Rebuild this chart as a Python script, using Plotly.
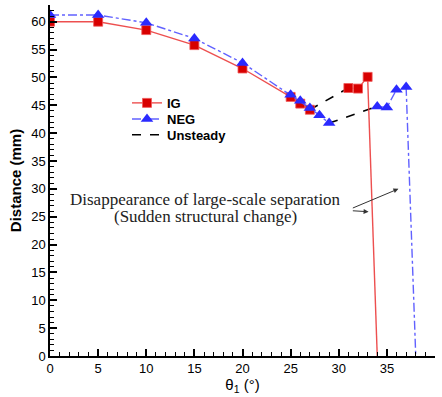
import plotly.graph_objects as go

# IG (red squares)
ig_x = [0, 5, 10, 15, 20, 25, 26, 27]
ig_y = [60.0, 60.0, 58.5, 55.8, 51.6, 46.5, 45.3, 44.2]
ig2_x = [31, 32, 33]
ig2_y = [48.1, 48.0, 50.1]
ig_drop_x = [33, 34]
ig_drop_y = [50.1, 0]

# NEG (blue triangles)
neg_x = [0, 5, 10, 15, 20, 25, 26, 27, 28, 29]
neg_y = [61.2, 61.2, 59.8, 57.0, 52.6, 46.9, 45.8, 44.5, 43.2, 41.8]
neg2_x = [34, 35, 36, 37]
neg2_y = [44.8, 44.6, 47.8, 48.3]
neg_drop_x = [37, 38]
neg_drop_y = [48.3, 0]

# Unsteady connections
uns_x = [27, 31, None, 29, 34]
uns_y = [44.2, 48.1, None, 41.8, 44.8]

x_ticks = [0, 5, 10, 15, 20, 25, 30, 35, 40]
y_ticks = [0, 5, 10, 15, 20, 25, 30, 35, 40, 45, 50, 55, 60]

RED_LINE = "rgba(235,60,60,0.9)"
RED_MK = "#d80000"
BLUE_LINE = "rgba(80,80,255,0.9)"
BLUE_MK = "#2a2aff"

fig = go.Figure()

fig.add_trace(go.Scatter(x=uns_x, y=uns_y, mode="lines", name="Unsteady",
                         line=dict(color="black", width=1.6, dash="dash"),
                         legend="legend3"))
fig.add_trace(go.Scatter(x=ig_drop_x, y=ig_drop_y, mode="lines", showlegend=False,
                         line=dict(color=RED_LINE, width=1.4)))
fig.add_trace(go.Scatter(x=neg_drop_x, y=neg_drop_y, mode="lines", showlegend=False,
                         line=dict(color=BLUE_LINE, width=1.4, dash="dashdot")))
fig.add_trace(go.Scatter(x=ig_x + [None] + ig2_x, y=ig_y + [None] + ig2_y,
                         mode="lines+markers", name="IG", legend="legend",
                         line=dict(color=RED_LINE, width=1.4),
                         marker=dict(symbol="square", size=9, color=RED_MK,
                                     line=dict(color="rgba(240,90,90,0.8)", width=1))))
fig.add_trace(go.Scatter(x=neg_x + [None] + neg2_x, y=neg_y + [None] + neg2_y,
                         mode="lines+markers", name="NEG", legend="legend2",
                         line=dict(color=BLUE_LINE, width=1.4, dash="dashdot"),
                         marker=dict(symbol="triangle-up", size=11, color=BLUE_MK,
                                     line=dict(width=0))))

serif = "Liberation Serif, Times New Roman, serif"
fig.add_annotation(x=16.2, y=28.1, xref="x", yref="y", showarrow=False,
                   text="Disappearance of large-scale separation",
                   font=dict(family=serif, size=17, color="#222"))
fig.add_annotation(x=16.2, y=25.0, xref="x", yref="y", showarrow=False,
                   text="(Sudden structural change)",
                   font=dict(family=serif, size=17, color="#222"))
fig.add_annotation(x=36.2, y=30.0, ax=31.1, ay=26.3, xref="x", yref="y",
                   axref="x", ayref="y", showarrow=True, text=" ",
                   arrowhead=2, arrowsize=1, arrowwidth=1, arrowcolor="#333")
fig.add_annotation(x=33.1, y=25.9, ax=31.1, ay=26.1, xref="x", yref="y",
                   axref="x", ayref="y", showarrow=True, text=" ",
                   arrowhead=2, arrowsize=1, arrowwidth=1, arrowcolor="#333")

axis_font = dict(family="Liberation Sans, Arial, sans-serif", size=13, color="black")
leg_font = dict(family="Liberation Sans, Arial, sans-serif", size=13,
                color="black", weight="bold")
leg_common = dict(x=0.2, xanchor="left", yanchor="middle",
                  bgcolor="rgba(0,0,0,0)", font=leg_font)

fig.update_layout(
    width=442, height=397,
    margin=dict(l=50, r=7, t=5, b=41),
    paper_bgcolor="white", plot_bgcolor="white",
    font=axis_font,
    showlegend=True,
    legend=dict(y=0.721, **leg_common),
    legend2=dict(y=0.675, **leg_common),
    legend3=dict(y=0.630, **leg_common),
    xaxis=dict(range=[0, 40], tickvals=x_ticks, ticktext=[str(v) for v in x_ticks],
               showgrid=False, zeroline=False, showline=True, linecolor="black",
               linewidth=1.5, ticks="inside", ticklen=7, tickwidth=1.5,
               tickcolor="black", tickfont=axis_font,
               minor=dict(dtick=1, ticks="inside", ticklen=4, tickwidth=1,
                          tickcolor="black", showgrid=False),
               title=dict(text="θ<sub>1</sub> (°)", standoff=4,
                          font=dict(family="Liberation Sans, Arial, sans-serif",
                                    size=15, color="black"))),
    yaxis=dict(range=[0, 63], tickvals=y_ticks, ticktext=[str(v) for v in y_ticks],
               showgrid=False, zeroline=False, showline=True, linecolor="black",
               linewidth=1.5, ticks="inside", ticklen=7, tickwidth=1.5,
               tickcolor="black", tickfont=axis_font,
               minor=dict(dtick=1, ticks="inside", ticklen=4, tickwidth=1,
                          tickcolor="black", showgrid=False),
               title=dict(text="Distance (mm)", standoff=6,
                          font=dict(family="Liberation Sans, Arial, sans-serif",
                                    size=15, color="black", weight="bold"))),
)

fig.write_html("out.html", config={"displayModeBar": False},
               post_script="document.body.style.margin='0';")
